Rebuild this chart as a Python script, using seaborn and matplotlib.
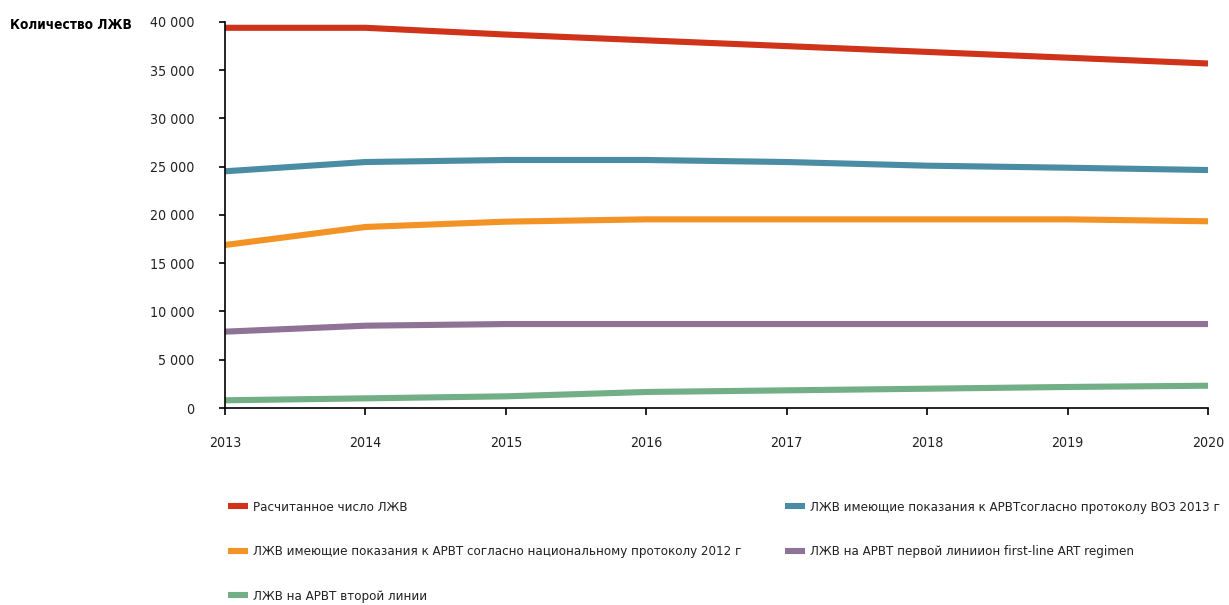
import matplotlib
matplotlib.use("Agg")
import matplotlib.pyplot as plt
from matplotlib.lines import Line2D
import seaborn as sns
import pandas as pd

years = [2013, 2014, 2015, 2016, 2017, 2018, 2019, 2020]

estimated_plhiv = [39400, 39400, 38700, 38100, 37500, 36900, 36300, 35700]
eligible_who_2013 = [24530, 25490, 25700, 25700, 25490, 25110, 24900, 24660]
eligible_national_2012 = [16890, 18760, 19310, 19550, 19550, 19550, 19550, 19350]
first_line_art = [7910, 8530, 8700, 8700, 8700, 8700, 8700, 8700]
second_line_art = [800, 1000, 1210, 1660, 1830, 2000, 2180, 2310]

series_names = [
    "Расчитанное число ЛЖВ",
    "ЛЖВ имеющие показания к АРВТсогласно протоколу ВОЗ 2013 г",
    "ЛЖВ имеющие показания к АРВТ согласно национальному протоколу 2012 г",
    "ЛЖВ на АРВТ первой линиион first-line ART regimen",
    "ЛЖВ на АРВТ второй линии",
]
series_values = [estimated_plhiv, eligible_who_2013, eligible_national_2012,
                 first_line_art, second_line_art]
series_colors = ["#CF3319", "#4B8CA5", "#F39325", "#8E7397", "#72AF86"]

y_ticks = [0, 5000, 10000, 15000, 20000, 25000, 30000, 35000, 40000]
y_tick_labels = ["0", "5 000", "10 000", "15 000", "20 000", "25 000",
                 "30 000", "35 000", "40 000"]
y_title = "Количество ЛЖВ"

df = pd.DataFrame(
    [(y, v, name) for name, vals in zip(series_names, series_values)
     for y, v in zip(years, vals)],
    columns=["year", "value", "series"],
)

sns.set_theme(style="white")
plt.rcParams["font.family"] = ["DejaVu Sans"]
plt.rcParams["font.stretch"] = "condensed"
plt.rcParams["font.size"] = 10

fig = plt.figure(figsize=(12.29, 6.05), dpi=100)
ax = fig.add_axes([225 / 1229, 1 - 408 / 605, (1208 - 225) / 1229, (408 - 22) / 605])

palette = dict(zip(series_names, series_colors))
sns.lineplot(data=df, x="year", y="value", hue="series", hue_order=series_names,
             palette=palette, linewidth=4.4, ax=ax, legend=False,
             solid_capstyle="butt")

ax.set_xlim(years[0], years[-1])
ax.set_ylim(0, 40000)
ax.set_xticks(years)
ax.set_xticklabels([str(y) for y in years])
ax.set_yticks(y_ticks)
ax.set_yticklabels(y_tick_labels)
ax.set_xlabel("")
ax.set_ylabel("")

for s in ["top", "right"]:
    ax.spines[s].set_visible(False)
for s in ["left", "bottom"]:
    ax.spines[s].set_color("black")
    ax.spines[s].set_linewidth(1.2)
ax.tick_params(axis="x", direction="out", length=5, width=1.2, color="black",
               pad=15, labelsize=10.2, labelcolor="#222222", bottom=True)
ax.tick_params(axis="y", direction="out", length=4, width=1.2, color="black",
               pad=18, labelsize=10.2, labelcolor="#222222", left=True)

fig.text(10 / 1229, 1 - 25 / 605, y_title, fontsize=9.8, fontweight="bold",
         ha="left", va="center", color="black")

def make_handle(color):
    return Line2D([0], [0], color=color, linewidth=4.4, solid_capstyle="butt")

legend_kw = dict(frameon=False, fontsize=9.5, handlelength=1.5,
                 handletextpad=0.4, labelspacing=2.38, borderaxespad=0,
                 borderpad=0, labelcolor="#222222")

left_idx = [0, 2, 4]
right_idx = [1, 3]
leg1 = fig.legend([make_handle(series_colors[i]) for i in left_idx],
                  [series_names[i] for i in left_idx],
                  loc="upper left", bbox_to_anchor=(228 / 1229, 1 - 501 / 605),
                  **legend_kw)
leg2 = fig.legend([make_handle(series_colors[i]) for i in right_idx],
                  [series_names[i] for i in right_idx],
                  loc="upper left", bbox_to_anchor=(785 / 1229, 1 - 501 / 605),
                  **legend_kw)

fig.savefig("out.png", dpi=100, facecolor="white")
